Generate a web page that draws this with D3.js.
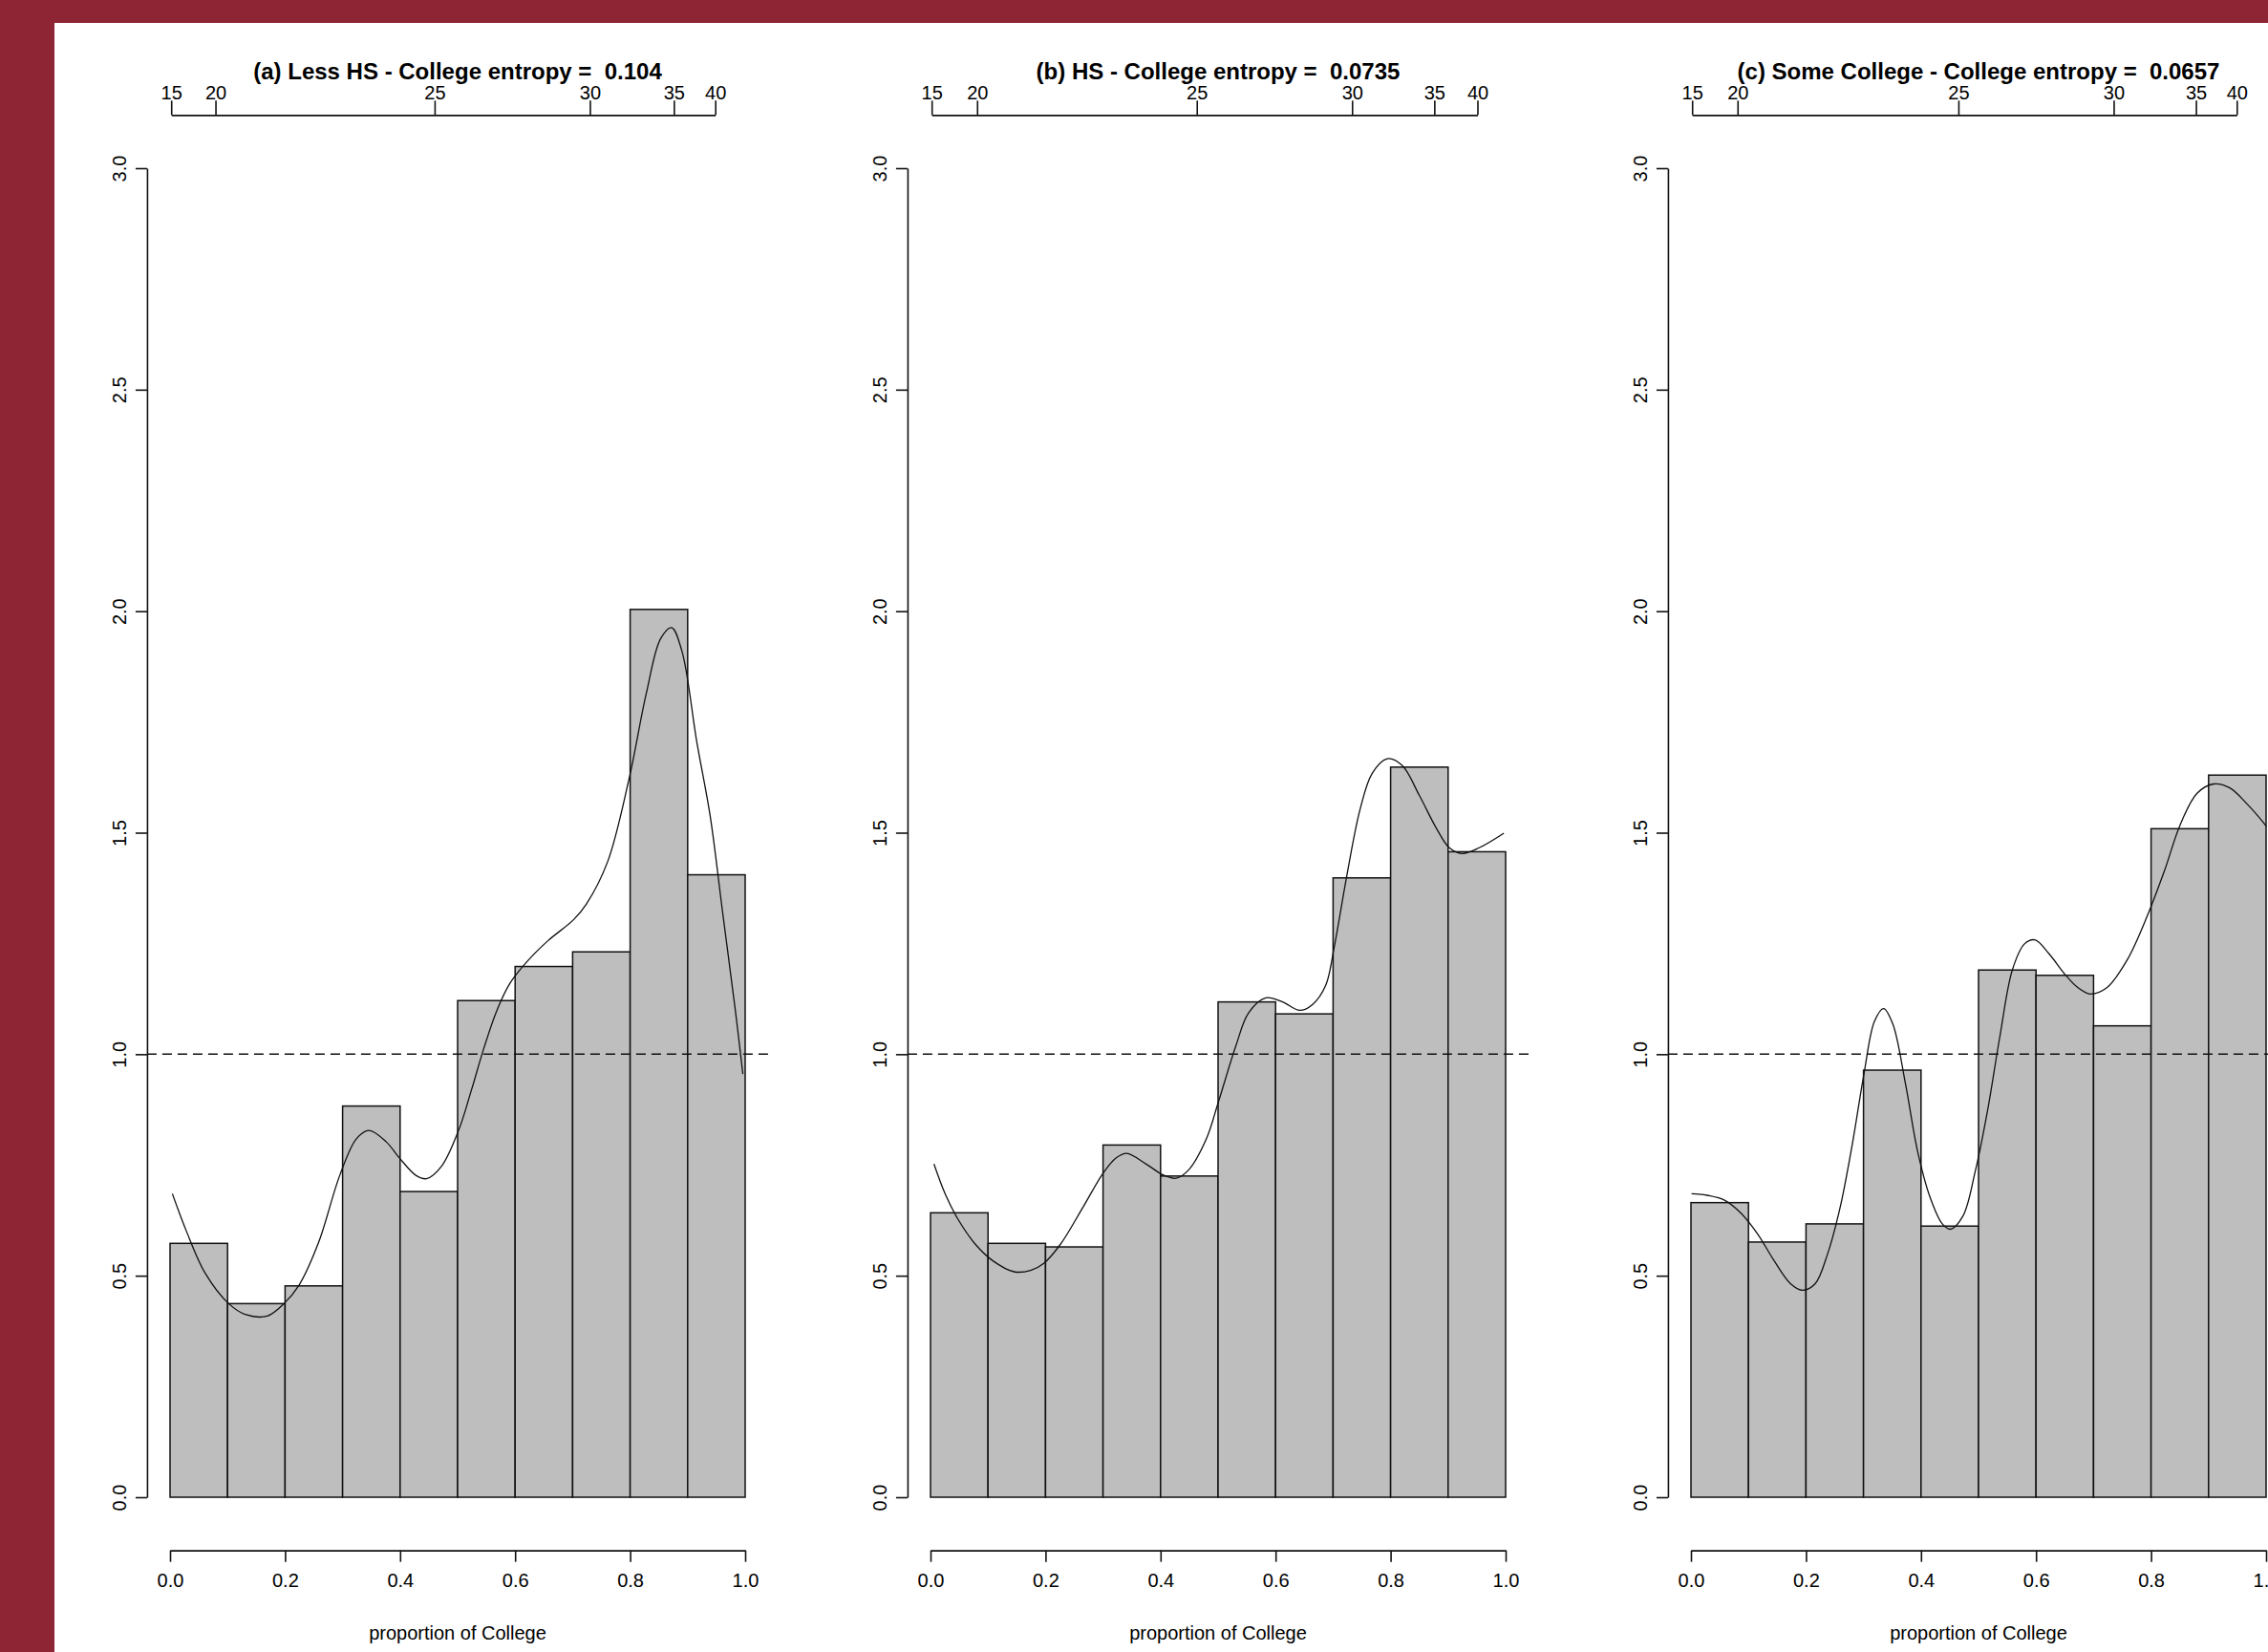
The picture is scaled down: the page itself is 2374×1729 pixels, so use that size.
<!DOCTYPE html>
<html><head><meta charset="utf-8">
<script src="https://cdn.jsdelivr.net/npm/d3@7"></script>
<style>html,body{margin:0;padding:0;background:#8D2535;overflow:hidden}</style>
</head><body>
<svg id="chart" width="2374" height="1729"></svg>
<script>
// ---------- DATA ----------
const breaks = [0, 0.1, 0.2, 0.3, 0.4, 0.5, 0.6, 0.7, 0.8, 0.9, 1.0];
const titles = [
  "(a) Less HS - College entropy =  0.104",
  "(b) HS - College entropy =  0.0735",
  "(c) Some College - College entropy =  0.0657"
];
const xLabel = "proportion of College";
const xTicks = [0, 0.2, 0.4, 0.6, 0.8, 1.0];
const yTicks = [0, 0.5, 1.0, 1.5, 2.0, 2.5, 3.0];
const refLine = 1.0;

const densA = [0.573, 0.437, 0.477, 0.883, 0.690, 1.121, 1.198, 1.231, 2.004, 1.405];
const densB = [0.642, 0.573, 0.565, 0.795, 0.725, 1.118, 1.091, 1.398, 1.648, 1.457];
const densC = [0.665, 0.576, 0.617, 0.964, 0.612, 1.190, 1.178, 1.064, 1.509, 1.630];

const kdeA = [[0.004,0.685],[0.028,0.602],[0.061,0.506],[0.102,0.437],[0.132,0.412],[0.169,0.409],[0.198,0.437],[0.224,0.478],[0.258,0.574],[0.295,0.726],[0.324,0.809],[0.346,0.828],[0.376,0.802],[0.398,0.767],[0.428,0.726],[0.446,0.719],[0.472,0.747],[0.502,0.829],[0.524,0.919],[0.546,1.015],[0.568,1.098],[0.591,1.160],[0.620,1.208],[0.657,1.256],[0.702,1.304],[0.724,1.339],[0.761,1.435],[0.798,1.621],[0.828,1.814],[0.853,1.938],[0.872,1.963],[0.890,1.910],[0.916,1.704],[0.939,1.539],[0.961,1.318],[0.983,1.098],[0.996,0.955]];
const kdeB = [[0.006,0.752],[0.026,0.683],[0.048,0.627],[0.078,0.571],[0.108,0.534],[0.145,0.509],[0.174,0.512],[0.197,0.528],[0.226,0.571],[0.264,0.652],[0.301,0.733],[0.323,0.766],[0.341,0.776],[0.375,0.752],[0.405,0.727],[0.427,0.720],[0.449,0.739],[0.479,0.807],[0.501,0.894],[0.531,1.019],[0.553,1.093],[0.583,1.127],[0.612,1.118],[0.642,1.099],[0.664,1.112],[0.687,1.155],[0.702,1.242],[0.724,1.404],[0.747,1.553],[0.768,1.634],[0.794,1.667],[0.820,1.652],[0.850,1.584],[0.880,1.509],[0.902,1.466],[0.924,1.453],[0.954,1.466],[0.997,1.499]];
const kdeC = [[0.001,0.685],[0.030,0.681],[0.059,0.670],[0.087,0.641],[0.116,0.594],[0.144,0.535],[0.173,0.482],[0.194,0.467],[0.216,0.482],[0.237,0.547],[0.259,0.652],[0.280,0.793],[0.301,0.957],[0.319,1.074],[0.335,1.103],[0.351,1.068],[0.373,0.933],[0.394,0.781],[0.416,0.676],[0.437,0.617],[0.451,0.605],[0.473,0.635],[0.494,0.734],[0.516,0.875],[0.537,1.039],[0.559,1.191],[0.580,1.249],[0.598,1.258],[0.623,1.226],[0.651,1.179],[0.673,1.150],[0.694,1.136],[0.723,1.150],[0.759,1.214],[0.794,1.314],[0.823,1.413],[0.851,1.519],[0.880,1.589],[0.909,1.610],[0.937,1.601],[0.966,1.566],[0.994,1.525],[1.0,1.515]];

const ageTicks = [15, 20, 25, 30, 35, 40];
const agePosA = [0.002, 0.079, 0.460, 0.730, 0.876, 0.948];
const agePosB = [0.002, 0.081, 0.463, 0.733, 0.876, 0.951];
const agePosC = [0.002, 0.081, 0.465, 0.735, 0.878, 0.949];

const panels = [
  {title: titles[0], dens: densA, kde: kdeA, agePos: agePosA},
  {title: titles[1], dens: densB, kde: kdeB, agePos: agePosB},
  {title: titles[2], dens: densC, kde: kdeC, agePos: agePosC}
];

// ---------- LAYOUT ----------
const W = 2374, H = 1729;
const panelW = 796;
const font = "'Liberation Sans', Arial, Helvetica, sans-serif";
const svg = d3.select("#chart");
svg.append("rect").attr("width", W).attr("height", H).attr("fill", "#8D2535");
svg.append("rect").attr("x", 57).attr("y", 24).attr("width", W - 57).attr("height", H - 24).attr("fill", "#ffffff");

const root = svg.append("g").style("font-family", font);

panels.forEach((p, i) => {
  const g = root.append("g").attr("transform", `translate(${i * panelW},0)`);
  const x = d3.scaleLinear().domain([0, 1]).range([178, 780]);
  const y = d3.scaleLinear().domain([0, 3]).range([1567, 176]);
  const plotLeft = x(-0.04), plotRight = x(1.04);
  const plotTop = y(3.12), plotBottom = y(-0.12);

  // bars
  g.append("g").selectAll("rect").data(p.dens).join("rect")
    .attr("x", (d, j) => x(breaks[j]))
    .attr("y", d => y(d))
    .attr("width", (d, j) => x(breaks[j + 1]) - x(breaks[j]))
    .attr("height", d => y(0) - y(d))
    .attr("fill", "#bebebe")
    .attr("stroke", "#111")
    .attr("stroke-width", 1.5);

  // reference dashed line
  g.append("line")
    .attr("x1", plotLeft).attr("x2", plotRight)
    .attr("y1", y(refLine)).attr("y2", y(refLine))
    .attr("stroke", "#111").attr("stroke-width", 1.5)
    .attr("stroke-dasharray", "10,6");

  // density curve
  const line = d3.line().x(d => x(d[0])).y(d => y(d[1])).curve(d3.curveCatmullRom);
  g.append("path").datum(p.kde).attr("d", line)
    .attr("fill", "none").attr("stroke", "#111").attr("stroke-width", 1.3);

  // y axis
  const yAx = g.append("g").attr("transform", `translate(${plotLeft},0)`)
    .call(d3.axisLeft(y).tickValues(yTicks).tickFormat(d3.format(".1f")).tickSize(12).tickSizeOuter(0));
  yAx.selectAll("text")
    .attr("x", 0).attr("dy", null)
    .attr("text-anchor", "middle")
    .attr("transform", "translate(-22,0) rotate(-90)");

  // x axis bottom
  g.append("g").attr("transform", `translate(0,${plotBottom})`)
    .call(d3.axisBottom(x).tickValues(xTicks).tickFormat(d3.format(".1f")).tickSize(12).tickSizeOuter(0).tickPadding(12));

  // top age axis
  const ageScale = d3.scaleLinear().domain(ageTicks).range(p.agePos.map(v => x(v)));
  g.append("g").attr("transform", `translate(0,${plotTop})`)
    .call(d3.axisTop(ageScale).tickValues(ageTicks).tickFormat(d3.format("d")).tickSize(15).tickSizeOuter(0).tickPadding(1));

  // title
  g.append("text").attr("x", (plotLeft + plotRight) / 2).attr("y", 83)
    .attr("text-anchor", "middle").attr("font-weight", "bold").attr("font-size", 24)
    .style("white-space", "pre").attr("xml:space", "preserve")
    .attr("fill", "#000").text(p.title);

  // x label
  g.append("text").attr("x", (plotLeft + plotRight) / 2).attr("y", 1716)
    .attr("text-anchor", "middle").attr("font-size", 20)
    .attr("fill", "#000").text(xLabel);
});

root.selectAll(".tick text").attr("font-size", 20).attr("font-family", font).attr("fill", "#000");
root.selectAll(".domain, .tick line").attr("stroke", "#111").attr("stroke-width", 1.6);
</script>
</body></html>
